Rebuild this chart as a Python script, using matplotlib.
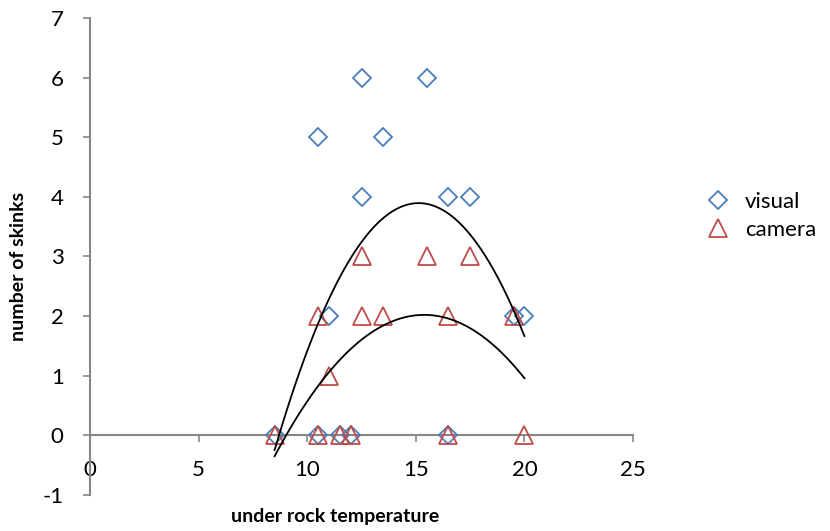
import numpy as np
import matplotlib
matplotlib.use("Agg")
import matplotlib.pyplot as plt

visual_x = [8.5, 10.5, 11.5, 12, 16.5, 10.5, 11, 12.5, 12.5, 13.5, 15.5, 16.5, 17.5, 19.5, 20]
visual_y = [0, 0, 0, 0, 0, 5, 2, 6, 4, 5, 6, 4, 4, 2, 2]
camera_x = [8.5, 10.5, 11.5, 12, 16.5, 20, 10.5, 11, 12.5, 12.5, 13.5, 15.5, 16.5, 17.5, 19.5]
camera_y = [0, 0, 0, 0, 0, 0, 2, 1, 3, 2, 2, 3, 2, 3, 2]
x_ticks = [0, 5, 10, 15, 20, 25]
y_ticks = [-1, 0, 1, 2, 3, 4, 5, 6, 7]

plt.rcParams['font.family'] = ['Lato', 'DejaVu Sans']
plt.rcParams['axes.unicode_minus'] = False

fig = plt.figure(figsize=(8.3, 5.31), dpi=100)
ax = fig.add_axes([0.1084, 0.0678, 0.6543, 0.8983])

blue = '#4a7ebb'
red = '#be4b48'
ax.plot(visual_x, visual_y, linestyle='none', marker='D', markersize=9.5,
        markerfacecolor='none', markeredgecolor=blue, markeredgewidth=1.3, label='visual', zorder=3)
ax.plot(camera_x, camera_y, linestyle='none', marker='^', markersize=13,
        markerfacecolor='none', markeredgecolor=red, markeredgewidth=1.3, label='camera', zorder=3)

for xs, ys in [(visual_x, visual_y), (camera_x, camera_y)]:
    c = np.polyfit(xs, ys, 2)
    xx = np.linspace(min(xs), max(xs), 200)
    ax.plot(xx, np.polyval(c, xx), color='black', linewidth=1.3, zorder=4)

ax.set_xlim(0, 25)
ax.set_ylim(-1, 7)
ax.set_xticks(x_ticks)
ax.set_yticks(y_ticks)
ax.spines['left'].set_position(('data', 0))
ax.spines['bottom'].set_position(('data', 0))
ax.spines['right'].set_visible(False)
ax.spines['top'].set_visible(False)
for s in ['left', 'bottom']:
    ax.spines[s].set_color('#868686')
    ax.spines[s].set_linewidth(1.5)
ax.tick_params(axis='both', colors='#868686', length=5, width=1.2, labelsize=16, labelcolor='black')
ax.tick_params(axis='x', pad=13)
ax.tick_params(axis='y', pad=14)

fig.text(0.022, 0.499, 'number of skinks', rotation=90, ha='center', va='center',
         fontsize=14, fontweight='bold')
fig.text(0.404, 0.027, 'under rock temperature', ha='center', va='center',
         fontsize=14, fontweight='bold')

leg = fig.legend(loc='center left', bbox_to_anchor=(0.828, 0.593), frameon=False, fontsize=16,
                 handletextpad=0.7, labelspacing=0.35, handlelength=1.0)

fig.savefig('out.png', dpi=100)
